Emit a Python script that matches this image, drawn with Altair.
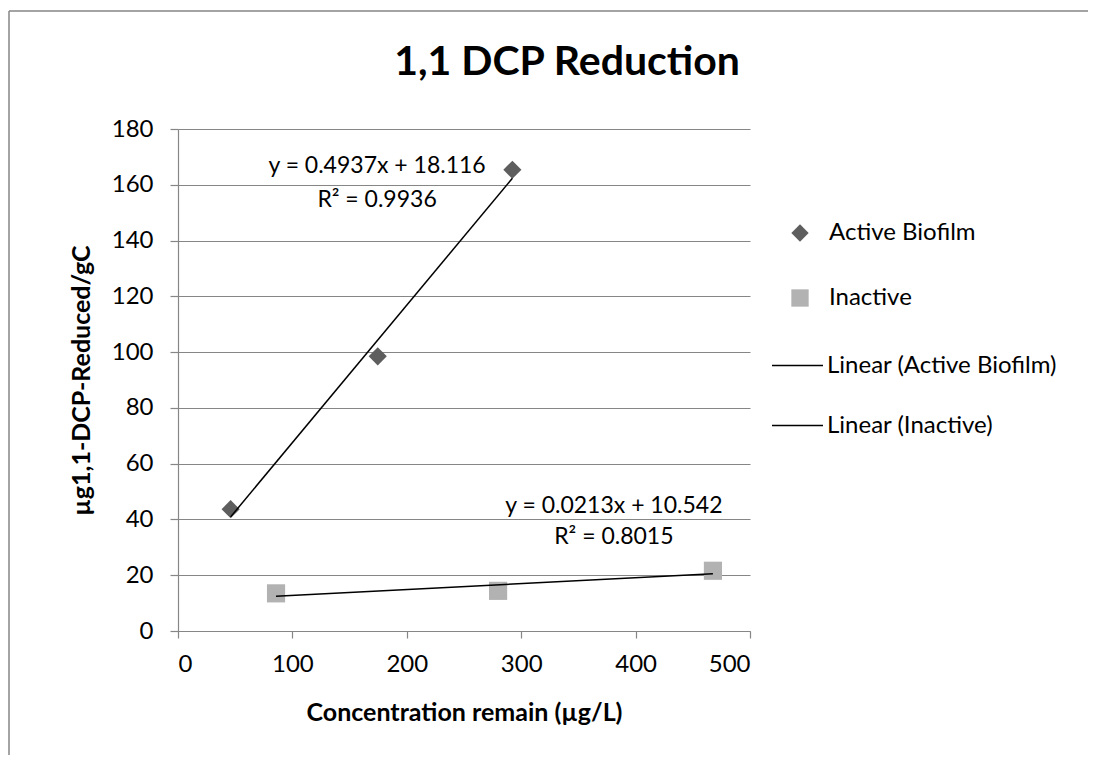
import altair as alt
import pandas as pd

# ---- data ----
series_names = ["Active Biofilm", "Inactive"]
trend_names = ["Linear (Active Biofilm)", "Linear (Inactive)"]
active_x = [46.0, 174.6, 292.3]
active_y = [43.7, 98.5, 165.4]
inactive_x = [85.7, 279.8, 467.6]
inactive_y = [13.5, 14.4, 21.6]
x_ticks = [0, 100, 200, 300, 400, 500]
y_ticks = [0, 20, 40, 60, 80, 100, 120, 140, 160, 180]
eq_text = ["y = 0.4937x + 18.116", "R² = 0.9936", "y = 0.0213x + 10.542", "R² = 0.8015"]
eq_x = [174.0, 174.0, 381.0, 381.0]
eq_y = [166.6, 154.6, 44.9, 33.6]
title_text = "1,1 DCP Reduction"

FONT = "Lato"
GRID = "#868686"

pts = pd.DataFrame({
    "x": active_x + inactive_x,
    "y": active_y + inactive_y,
    "series": [series_names[0]] * len(active_x) + [series_names[1]] * len(inactive_x),
})
eqs = pd.DataFrame({"x": eq_x, "y": eq_y, "text": eq_text})

xscale = alt.Scale(domain=[0, 500], nice=False, zero=False)
yscale = alt.Scale(domain=[0, 180], nice=False, zero=False)

leg1 = dict(title=None, orient="none", legendX=610, legendY=92, symbolSize=300,
            rowPadding=41, labelOffset=17, padding=0, labelLimit=400)

points = alt.Chart(pts).mark_point(filled=True, opacity=1, size=330, strokeWidth=0).encode(
    x=alt.X("x:Q", scale=xscale,
            axis=alt.Axis(values=x_ticks, title="Concentration remain (µg/L)", grid=False,
                          tickSize=7, labelPadding=14, titlePadding=24)),
    y=alt.Y("y:Q", scale=yscale,
            axis=alt.Axis(values=y_ticks, title="µg1,1-DCP-Reduced/gC", grid=True,
                          tickSize=8, labelPadding=17, titlePadding=17)),
    fill=alt.Fill("series:N", scale=alt.Scale(domain=series_names, range=["#5e5e5e", "#b2b2b2"]),
                  legend=alt.Legend(**leg1)),
    shape=alt.Shape("series:N", scale=alt.Scale(domain=series_names, range=["diamond", "square"]),
                    legend=alt.Legend(**leg1)),
)

trend = alt.Chart(pts).transform_regression(
    "x", "y", groupby=["series"]
).transform_calculate(
    trend="'Linear (' + datum.series + ')'"
).mark_line(strokeWidth=1.5).encode(
    x="x:Q",
    y="y:Q",
    stroke=alt.Stroke("trend:N", scale=alt.Scale(domain=trend_names, range=["black", "black"]),
                      legend=alt.Legend(title=None, orient="none", legendX=593, legendY=210,
                                        symbolType="stroke", symbolSize=2600, symbolStrokeWidth=1.5,
                                        rowPadding=21, labelOffset=3, padding=0, labelLimit=400)),
)

labels = alt.Chart(eqs).mark_text(font=FONT, fontSize=23, color="black",
                                  align="center", baseline="middle").encode(
    x="x:Q", y="y:Q", text="text:N")

one = pd.DataFrame({"t": [title_text]})
title = alt.Chart(one).mark_text(font=FONT, fontSize=41, fontWeight="bold", color="black",
                                 align="center", baseline="alphabetic").encode(
    x=alt.value(389), y=alt.value(-54), text="t:N")

frame_left = alt.Chart(one).mark_rule(color=GRID, strokeWidth=1.5).encode(
    x=alt.value(-169), y=alt.value(-118), y2=alt.value(660))
frame_top = alt.Chart(one).mark_rule(color=GRID, strokeWidth=1.5).encode(
    x=alt.value(-169), x2=alt.value(1000), y=alt.value(-118))

chart = alt.layer(frame_left, frame_top, title, points, trend, labels).properties(
    width=572, height=502,
    autosize=alt.AutoSizeParams(type="none"),
    padding={"left": 170, "top": 121, "right": 338, "bottom": 124},
).configure_view(stroke=None).configure_axis(
    domainColor=GRID, gridColor=GRID, tickColor=GRID, domainWidth=1.2, gridWidth=1.2, tickWidth=1.2,
    labelFont=FONT, labelFontSize=24, labelColor="black",
    titleFont=FONT, titleFontSize=25, titleFontWeight="bold", titleColor="black",
).configure_legend(
    labelFont=FONT, labelFontSize=24, labelColor="black",
)

chart.save("out.html", embed_options={"renderer": "svg", "actions": False})
